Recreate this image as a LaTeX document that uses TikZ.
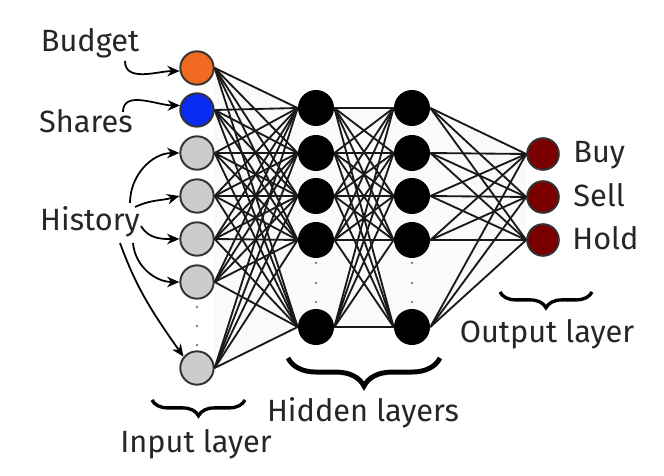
\documentclass[tikz,border=0pt]{standalone}
\usepackage{fontspec}
\setmainfont{Fira Sans}
\usetikzlibrary{decorations.pathreplacing,arrows.meta}

\definecolor{inorange}{HTML}{F26A21}
\definecolor{inblue}{HTML}{0A2BF0}
\definecolor{ingray}{HTML}{CCCCCC}
\definecolor{outred}{HTML}{7A0000}

\begin{document}
\begin{tikzpicture}[x=0.02cm,y=-0.02cm,font=\fontsize{17.5}{20}\selectfont,
  neuron/.style={circle,draw=black!80,line width=1.1pt,minimum size=19pt,inner sep=0pt},
  hid/.style={circle,fill=black,minimum size=20.5pt,inner sep=0pt},
  outn/.style={neuron,fill=outred,minimum size=18pt},
  wire/.style={line width=1.05pt,black!90},
  arr/.style={line width=1pt,-{Stealth[length=7pt,width=6pt]}},
  lbl/.style={anchor=base,inner sep=0pt,text=black!85},
  brc/.style={decorate,decoration={brace,mirror,amplitude=#1}}]

\useasboundingbox (0,0) rectangle (664,476);

% light shading behind the net
\fill[black!2] (214,68) -- (298,108) -- (430,108) -- (526,154) -- (526,240) -- (430,327) -- (298,327) -- (214,368) -- cycle;

% input layer
\node[neuron,fill=inorange] (in1) at (197,68) {};
\node[neuron,fill=inblue] (in2) at (197,110) {};
\foreach \y [count=\i from 3] in {153,196,239,282,368}
  \node[neuron,fill=ingray] (in\i) at (197,\y) {};

% hidden layers
\foreach \y [count=\i] in {108,153,196,240,327} {
  \node[hid] (ha\i) at (316,\y) {};
  \node[hid] (hb\i) at (412,\y) {};
}

% output layer
\foreach \y [count=\i] in {154,197,240}
  \node[outn] (out\i) at (543,\y) {};

% weights
\foreach \i in {1,...,7}
  \foreach \j in {1,...,5}
    \draw[wire] (in\i.east) -- (ha\j.west);
\foreach \i in {1,...,5}
  \foreach \j in {1,...,5}
    \draw[wire] (ha\i.east) -- (hb\j.west);
\foreach \i in {1,...,5}
  \foreach \j in {1,...,3}
    \draw[wire] (hb\i.east) -- (out\j.west);

% vertical dots
\foreach \y in {307,326,345}
  \fill[gray] (197,\y) circle (0.8pt);
\foreach \y in {263,283,302} {
  \fill[gray] (316,\y) circle (0.8pt);
  \fill[gray] (412,\y) circle (0.8pt);
}

% input labels
\node[lbl] (lbudget) at (90,52) {Budget};
\node[lbl] (lshares) at (86,133) {Shares};
\node[lbl] (lhist) at (90,231) {History};

\coordinate (sb) at (125,61);
\coordinate (ss) at (123,112);
\coordinate (s3) at (130,203);
\coordinate (s4) at (135,207);
\coordinate (s5) at (141,226);
\coordinate (s6) at (133,243);
\coordinate (s7) at (120,243);

\draw[arr] (sb) to[out=-90,in=180] (in1.190);
\draw[arr] (ss) to[out=90,in=180] (in2.165);
\draw[arr] (s3) to[out=90,in=180] (in3.west);
\draw[arr] (s4) to[out=25,in=195] (in4.west);
\draw[arr] (s5) to[out=-60,in=180] (in5.west);
\draw[arr] (s6) to[out=-85,in=180] (in6.west);
\draw[arr] (s7) to[out=-70,in=125] (in7.140);

% output labels
\node[lbl,anchor=base west] (lbuy) at (573,163) {Buy};
\node[lbl,anchor=base west] (lsell) at (573,207) {Sell};
\node[lbl,anchor=base west] (lhold) at (572,250) {Hold};

% braces
\draw[brc=9pt,line width=1.9pt] (152,400) -- (245,400);
\node[lbl] (linput) at (196,453) {Input layer};

\draw[brc=16pt,line width=2.8pt] (288,358) -- (440,358);
\node[lbl] (lhidden) at (363,422) {Hidden layers};

\draw[brc=9pt,line width=1.9pt] (500,292) -- (592,292);
\node[lbl] (loutput) at (547,343) {Output layer};

\end{tikzpicture}
\end{document}
